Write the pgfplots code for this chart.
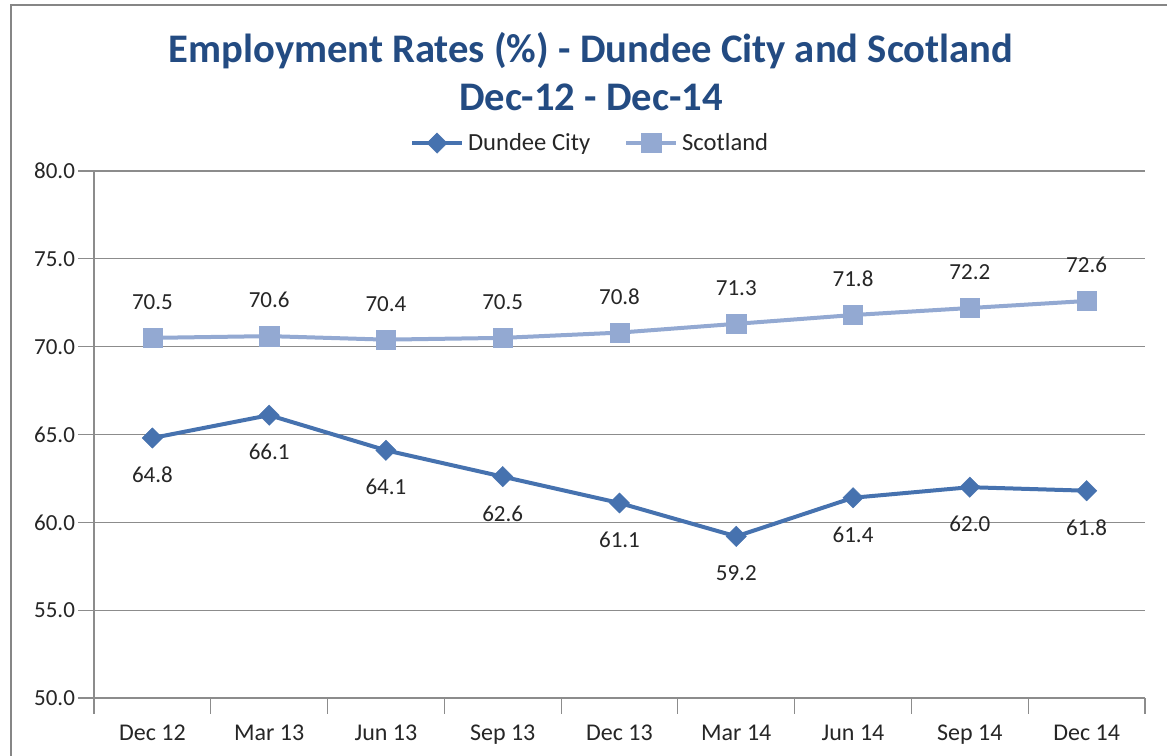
\documentclass[border=0pt]{standalone}
\usepackage{fontspec}
\setmainfont{Carlito}
\usepackage{pgfplots}
\pgfplotsset{compat=1.18}

\definecolor{dundee}{RGB}{70,114,175}
\definecolor{scot}{RGB}{147,169,210}
\definecolor{titleblue}{RGB}{35,75,130}
\definecolor{gridgray}{RGB}{140,140,140}
\definecolor{framegray}{RGB}{134,134,134}

\begin{document}
\begin{tikzpicture}[x=0.5pt,y=0.5pt]
  % picture area: 1167 x 755 px, 1 px = 0.5 pt
  \begin{scope}
  \clip (0,0) rectangle (1167,755);
  \fill[white] (0,0) rectangle (1167,755);
  \draw[framegray, line width=1pt] (11,750) rectangle (1250,-50);
  \end{scope}

  \node[font=\fontsize{20.3}{24}\selectfont\bfseries, text=titleblue, align=center]
    at (591,683) {Employment Rates (\%) - Dundee City and Scotland\\Dec-12 - Dec-14};

  \coordinate (axsw) at (94,57);
  \begin{axis}[
    at={(axsw)}, anchor=south west,
    scale only axis,
    width=525.5pt, height=263.5pt,
    xmin=-0.5, xmax=8.5,
    ymin=50, ymax=80,
    xtick={0,...,8},
    xticklabels={Dec 12,Mar 13,Jun 13,Sep 13,Dec 13,Mar 14,Jun 14,Sep 14,Dec 14},
    minor xtick={-0.5,0.5,...,8.5},
    major x tick style={draw=none},
    ytick={50,55,...,80},
    yticklabel style={/pgf/number format/fixed, /pgf/number format/fixed zerofill,
      /pgf/number format/precision=1, xshift=2pt, font=\fontsize{11.5}{14}\selectfont},
    /pgf/number format/assume math mode=true,
    tick align=outside,
    major tick length=8pt,
    minor tick length=8pt,
    tick style={gridgray, line width=0.6pt},
    axis x line*=bottom,
    axis y line*=left,
    axis line style={gridgray, line width=0.6pt, -},
    ymajorgrids=true,
    major grid style={gridgray, line width=0.6pt},
    ticklabel style={font=\fontsize{12}{14}\selectfont, text=black!85},
    xticklabel style={yshift=-2pt},
    clip=false,
    legend columns=2,
    legend style={at={(0.473,1.053)}, anchor=center, draw=none, fill=none,
      font=\fontsize{12.3}{14}\selectfont, text=black!85,
      /tikz/every even column/.append style={column sep=15pt}},
    legend image code/.code={
      \draw[#1, mark=none] (0pt,0pt) -- (25pt,0pt);
      \draw[#1, only marks] plot coordinates {(12.5pt,0pt)};
    },
    nodes near coords,
    nodes near coords style={font=\fontsize{11.5}{14}\selectfont, text=black!85,
      /pgf/number format/fixed, /pgf/number format/fixed zerofill,
      /pgf/number format/precision=1, /pgf/number format/assume math mode=true},
  ]
    \addplot[dundee, line width=2pt, mark=square*,
      mark options={rotate=45, solid, fill=dundee, draw=dundee, line width=0.2pt},
      mark size=3.6pt,
      every node near coord/.append style={anchor=center, yshift=-18.5pt}]
      coordinates {
      (0,64.8) (1,66.1) (2,64.1) (3,62.6) (4,61.1)
      (5,59.2) (6,61.4) (7,62.0) (8,61.8)
    };
    \addlegendentry{Dundee City}

    \addplot[scot, line width=2pt, mark=square*,
      mark options={solid, fill=scot, draw=scot, line width=0.2pt},
      mark size=4.8pt,
      every node near coord/.append style={anchor=center, yshift=18pt}]
      coordinates {
      (0,70.5) (1,70.6) (2,70.4) (3,70.5) (4,70.8)
      (5,71.3) (6,71.8) (7,72.2) (8,72.6)
    };
    \addlegendentry{Scotland}
  \end{axis}
  \pgfresetboundingbox
  \useasboundingbox (0,0) rectangle (1167,755);
\end{tikzpicture}
\end{document}
